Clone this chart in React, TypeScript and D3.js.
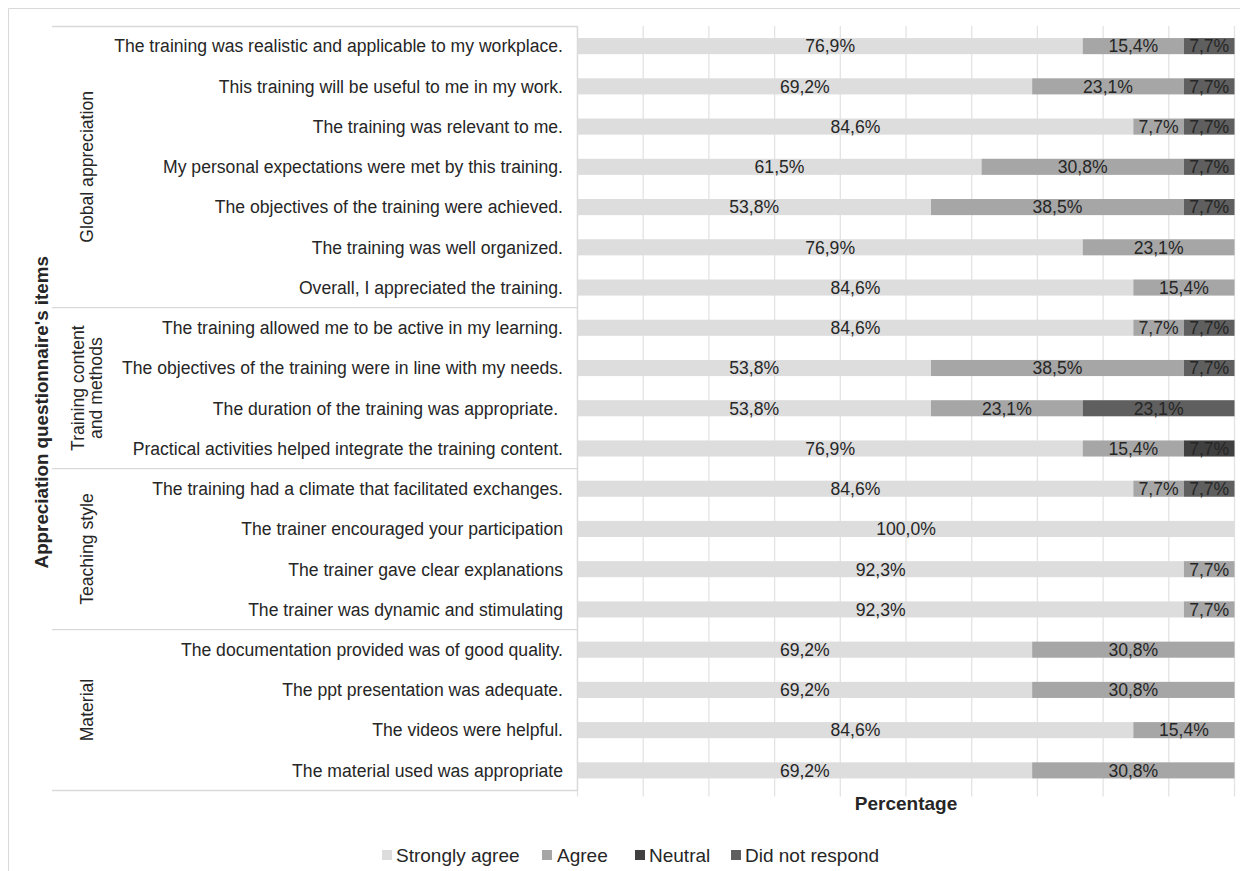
import React from "react";
import * as d3 from "d3";

const items = [
  "The training was realistic and applicable to my workplace.",
  "This training will be useful to me in my work.",
  "The training was relevant to me.",
  "My personal expectations were met by this training.",
  "The objectives of the training were achieved.",
  "The training was well organized.",
  "Overall, I appreciated the training.",
  "The training allowed me to be active in my learning.",
  "The objectives of the training were in line with my needs.",
  "The duration of the training was appropriate. ",
  "Practical activities helped integrate the training content.",
  "The training had a climate that facilitated exchanges.",
  "The trainer encouraged your participation",
  "The trainer gave clear explanations",
  "The trainer was dynamic and stimulating",
  "The documentation provided was of good quality.",
  "The ppt presentation was adequate.",
  "The videos were helpful.",
  "The material used was appropriate",
];

const stronglyAgree = [76.9, 69.2, 84.6, 61.5, 53.8, 76.9, 84.6, 84.6, 53.8, 53.8, 76.9, 84.6, 100, 92.3, 92.3, 69.2, 69.2, 84.6, 69.2];
const agree = [15.4, 23.1, 7.7, 30.8, 38.5, 23.1, 15.4, 7.7, 38.5, 23.1, 15.4, 7.7, 0, 7.7, 7.7, 30.8, 30.8, 15.4, 30.8];
const neutral = [0, 0, 0, 0, 0, 0, 0, 0, 0, 0, 7.7, 0, 0, 0, 0, 0, 0, 0, 0];
const didNotRespond = [7.7, 7.7, 7.7, 7.7, 7.7, 0, 0, 7.7, 7.7, 23.1, 0, 7.7, 0, 0, 0, 0, 0, 0, 0];

const seriesNames = ["Strongly agree", "Agree", "Neutral", "Did not respond"];
const seriesColors = ["#dddddd", "#a6a6a6", "#404040", "#5f5f5f"];

const groups = [
  { lines: ["Global appreciation"], start: 0, end: 6 },
  { lines: ["Training content", "and methods"], start: 7, end: 10 },
  { lines: ["Teaching style"], start: 11, end: 14 },
  { lines: ["Material"], start: 15, end: 18 },
];

const xTicks = [0, 10, 20, 30, 40, 50, 60, 70, 80, 90, 100];

const fmt = (v: number) => v.toFixed(1).replace(".", ",") + "%";

export default function App() {
  const W = 1240;
  const H = 863;
  const off = 8;
  const x0 = 577.5 - off;
  const x1 = 1234.5 - off;
  const yTop = 26 - off;
  const yBot = 790.5 - off;
  const panelLeft = 52 - off;

  const x = d3.scaleLinear().domain([0, 100]).range([x0, x1]);
  const y = d3
    .scaleBand<string>()
    .domain(items)
    .range([yTop, yBot])
    .paddingInner(0.6)
    .paddingOuter(0.3);
  const step = y.step();
  const rowTop = (i: number) => yTop + i * step;

  const data = items.map((it, i) => ({
    item: it,
    "Strongly agree": stronglyAgree[i],
    Agree: agree[i],
    Neutral: neutral[i],
    "Did not respond": didNotRespond[i],
  }));
  const stack = d3.stack<any>().keys(seriesNames)(data);

  const font = "'Liberation Sans', Arial, sans-serif";
  const textColor = "#262626";
  const lineColor = "#d9d9d9";
  const fs = 17.6;

  const legendItems = [
    { name: seriesNames[0], x: 382, tx: 396 },
    { name: seriesNames[1], x: 542, tx: 557 },
    { name: seriesNames[2], x: 635, tx: 649 },
    { name: seriesNames[3], x: 731, tx: 745 },
  ];

  return (
    <svg width={W} height={H} style={{ display: "block" }} fontFamily={font}>
      <rect x={0} y={0} width={W} height={H} fill="#ffffff" />
      <line x1={0.5} y1={0.5} x2={W} y2={0.5} stroke="#d9d9d9" />
      <line x1={0.5} y1={0.5} x2={0.5} y2={H} stroke="#d9d9d9" />

      {xTicks.map((t) => (
        <line
          key={"g" + t}
          x1={x(t)}
          x2={x(t)}
          y1={yTop}
          y2={yBot + 6}
          stroke="#e3e3e3"
          strokeWidth={1.3}
        />
      ))}

      <line x1={panelLeft} x2={x0} y1={yTop + 0.5} y2={yTop + 0.5} stroke={lineColor} strokeWidth={1.3} />
      <line x1={x0} x2={x0} y1={yTop} y2={yBot} stroke={lineColor} strokeWidth={1.3} />
      {groups.map((g, gi) => (
        <line
          key={"sep" + gi}
          x1={panelLeft}
          x2={x0}
          y1={rowTop(g.end + 1)}
          y2={rowTop(g.end + 1)}
          stroke={lineColor}
          strokeWidth={1.3}
        />
      ))}

      {stack.map((s, si) =>
        s.map((d, i) => {
          const v = d[1] - d[0];
          if (v <= 0) return null;
          const yy = y(items[i]) as number;
          return (
            <g key={si + "-" + i}>
              <rect
                x={x(d[0])}
                y={yy}
                width={x(d[1]) - x(d[0])}
                height={y.bandwidth()}
                fill={seriesColors[si]}
              />
              <text
                x={(x(d[0]) + x(d[1])) / 2}
                y={yy + y.bandwidth() / 2}
                dy="0.36em"
                textAnchor="middle"
                fontSize={fs}
                fill={textColor}
              >
                {fmt(v)}
              </text>
            </g>
          );
        })
      )}

      {items.map((it) => (
        <text
          key={it}
          x={563 - off}
          y={(y(it) as number) + y.bandwidth() / 2}
          dy="0.36em"
          textAnchor="end"
          fontSize={fs}
          fill={textColor}
          style={{ whiteSpace: "pre" }}
        >
          {it}
        </text>
      ))}

      {groups.map((g, gi) => {
        const cy = (rowTop(g.start) + rowTop(g.end + 1)) / 2;
        const cx = 87 - off;
        const lh = 18;
        return (
          <text
            key={"grp" + gi}
            transform={`translate(${cx},${cy}) rotate(-90)`}
            textAnchor="middle"
            fontSize={fs}
            fill={textColor}
          >
            {g.lines.map((l, li) => (
              <tspan key={li} x={0} y={(li - (g.lines.length - 1) / 2) * lh} dy="0.36em">
                {l}
              </tspan>
            ))}
          </text>
        );
      })}

      <text
        transform={`translate(${41 - off},${(yTop + yBot) / 2 + 4}) rotate(-90)`}
        textAnchor="middle"
        dy="0.36em"
        fontSize={18.8}
        fontWeight="bold"
        fill={textColor}
      >
        Appreciation questionnaire's items
      </text>
      <text
        x={(x0 + x1) / 2}
        y={803 - off}
        dy="0.36em"
        textAnchor="middle"
        fontSize={19}
        fontWeight="bold"
        fill={textColor}
      >
        Percentage
      </text>

      {legendItems.map((l, i) => (
        <g key={l.name}>
          <rect x={l.x - off} y={850 - off} width={10} height={10} fill={seriesColors[i]} />
          <text x={l.tx - off} y={855.5 - off} dy="0.36em" fontSize={19} fill={textColor}>
            {l.name}
          </text>
        </g>
      ))}
    </svg>
  );
}
